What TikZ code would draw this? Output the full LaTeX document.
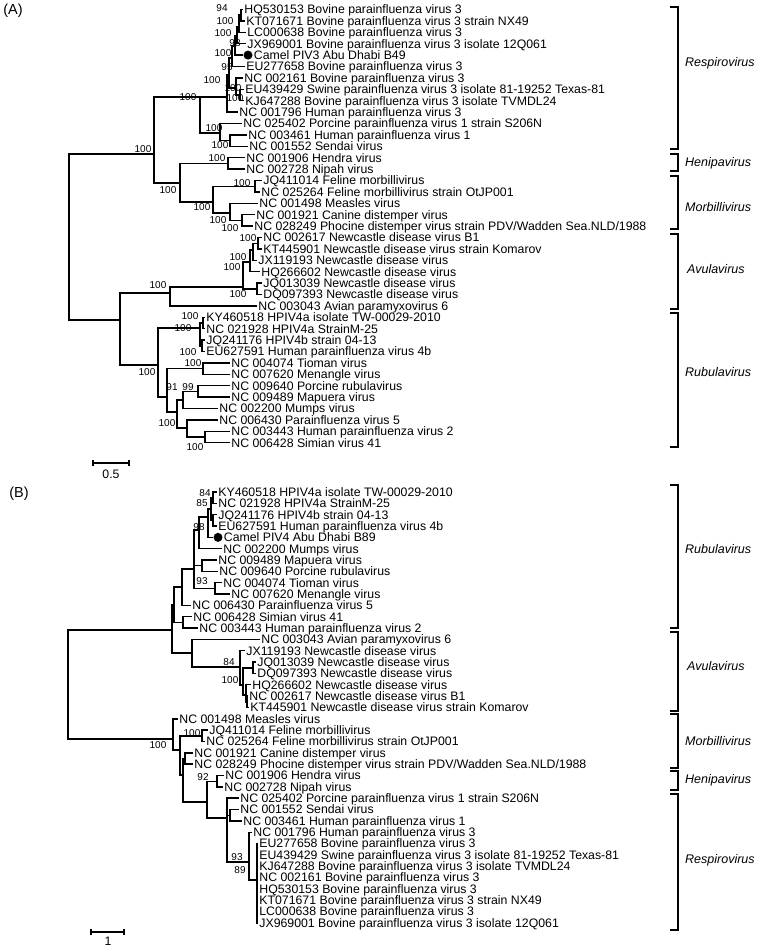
\documentclass[tikz,border=0pt]{standalone}
\usepackage{fontspec}
\setmainfont{Liberation Sans}
\newcommand\tipfont{\fontsize{12.3}{12.3}\selectfont}
\newcommand\bootfont{\fontsize{10}{10}\selectfont}
\newcommand\genfont{\fontsize{12.5}{12.5}\selectfont\itshape}
\newcommand\tA[4]{\node[tip] (#1) at (#2,{ya(#3)}) {#4};}
\newcommand\tB[4]{\node[tip] (#1) at (#2,{yb(#3)}) {#4};}
\newcommand\br[2]{\draw[branch] (#1) |- (#2);}
\newcommand\bs[4]{\node[boot] (#1) at (#2,#3) {#4};}
\newcommand\grp[6]{%
  \coordinate (#1t) at (670,#2); \coordinate (#1b) at (670,#3);
  \draw[bracketline] (#1t) -- ++(8,0) |- (#1b);
  \node[gen] (#1l) at (#5,#6) {#4};}
\begin{document}
\begin{tikzpicture}[x=1pt,y=-1pt,
  declare function={ya(\i)=9.5+11.4*(\i-1); yb(\i)=492+11.34*(\i-1);},
  branch/.style={line width=1.4pt, line join=miter},
  tip/.style={anchor=west, inner xsep=1.2pt, inner ysep=0pt, font=\tipfont, text height=8.8pt, text depth=0pt},
  boot/.style={inner sep=0pt, font=\bootfont},
  gen/.style={inner sep=0pt, anchor=west, font=\genfont},
  panel/.style={inner sep=0pt, font=\fontsize{14.5}{14.5}\selectfont},
  bracketline/.style={line width=1.3pt, line join=miter},
  dot/.style={circle, fill=black, inner sep=0pt, minimum size=9pt},
  scalebar/.style={line width=1.3pt}]
\useasboundingbox (0,0) rectangle (760,948);

% ================= Panel A =================
\node[panel] (labA) at (13,11) {(A)};
\coordinate (rootA) at (69,237);
\coordinate (N1) at (154,154);
\coordinate (ResA) at (200,97);
\coordinate (P3) at (227,97);
\coordinate (a8) at (229,75);
\coordinate (a5) at (232,58);
\coordinate (a4) at (235,46);
\coordinate (a3) at (237,36);
\coordinate (a2) at (239,27);
\coordinate (a1) at (241,15);
\coordinate (a6) at (236,88);
\coordinate (a7) at (240,95);
\coordinate (P1) at (220,133);
\coordinate (sd) at (230,140.6);
\coordinate (N3) at (180,183);
\coordinate (Hn) at (228,163.4);
\coordinate (Mb) at (213,202);
\coordinate (Fe) at (255,186.2);
\coordinate (Md) at (230,213);
\coordinate (Cd) at (242,220.4);
\coordinate (N2) at (120,320);
\coordinate (Av0) at (170,293);
\coordinate (Av1) at (243,287);
\coordinate (Av2) at (250,262);
\coordinate (Av2a) at (253,250);
\coordinate (nd) at (258,243.2);
\coordinate (Av3) at (257,288.8);
\coordinate (Rb) at (158,365);
\coordinate (H4) at (200,328);
\coordinate (h4a) at (203,323);
\coordinate (h4b) at (202,345.8);
\coordinate (R2) at (167,397);
\coordinate (tm) at (203,368.6);
\coordinate (R3) at (177,412);
\coordinate (mu) at (183,400);
\coordinate (pm) at (198,391.4);
\coordinate (ps) at (187,428);
\coordinate (h2) at (205,437);

\tA{tA1}{243}{1}{HQ530153 Bovine parainfluenza virus 3}
\tA{tA2}{245}{2}{KT071671 Bovine parainfluenza virus 3 strain NX49}
\tA{tA3}{246}{3}{LC000638 Bovine parainfluenza virus 3}
\tA{tA4}{246}{4}{JX969001 Bovine parainfluenza virus 3 isolate 12Q061}
\node[dot] (camA) at (248,{ya(5)}) {};
\tA{tA5}{252.5}{5}{Camel PIV3 Abu Dhabi B49}
\tA{tA6}{245}{6}{EU277658 Bovine parainfluenza virus 3}
\tA{tA7}{243}{7}{NC 002161 Bovine parainfluenza virus 3}
\tA{tA8}{244}{8}{EU439429 Swine parainfluenza virus 3 isolate 81-19252 Texas-81}
\tA{tA9}{244}{9}{KJ647288 Bovine parainfluenza virus 3 isolate TVMDL24}
\tA{tA10}{238}{10}{NC 001796 Human parainfluenza virus 3}
\tA{tA11}{242}{11}{NC 025402 Porcine parainfluenza virus 1 strain S206N}
\tA{tA12}{247}{12}{NC 003461 Human parainfluenza virus 1}
\tA{tA13}{248}{13}{NC 001552 Sendai virus}
\tA{tA14}{245}{14}{NC 001906 Hendra virus}
\tA{tA15}{245}{15}{NC 002728 Nipah virus}
\tA{tA16}{262}{16}{JQ411014 Feline morbillivirus}
\tA{tA17}{260}{17}{NC 025264 Feline morbillivirus strain OtJP001}
\tA{tA18}{258}{18}{NC 001498 Measles virus}
\tA{tA19}{255}{19}{NC 001921 Canine distemper virus}
\tA{tA20}{253}{20}{NC 028249 Phocine distemper virus strain PDV/Wadden Sea.NLD/1988}
\tA{tA21}{262}{21}{NC 002617 Newcastle disease virus B1}
\tA{tA22}{262}{22}{KT445901 Newcastle disease virus strain Komarov}
\tA{tA23}{257}{23}{JX119193 Newcastle disease virus}
\tA{tA24}{260}{24}{HQ266602 Newcastle disease virus}
\tA{tA25}{262}{25}{JQ013039 Newcastle disease virus}
\tA{tA26}{262}{26}{DQ097393 Newcastle disease virus}
\tA{tA27}{257}{27}{NC 003043 Avian paramyxovirus 6}
\tA{tA28}{205}{28}{KY460518 HPIV4a isolate TW-00029-2010}
\tA{tA29}{205}{29}{NC 021928 HPIV4a StrainM-25}
\tA{tA30}{205}{30}{JQ241176 HPIV4b strain 04-13}
\tA{tA31}{205}{31}{EU627591 Human parainfluenza virus 4b}
\tA{tA32}{230}{32}{NC 004074 Tioman virus}
\tA{tA33}{230}{33}{NC 007620 Menangle virus}
\tA{tA34}{230}{34}{NC 009640 Porcine rubulavirus}
\tA{tA35}{230}{35}{NC 009489 Mapuera virus}
\tA{tA36}{218}{36}{NC 002200 Mumps virus}
\tA{tA37}{218}{37}{NC 006430 Parainfluenza virus 5}
\tA{tA38}{230}{38}{NC 003443 Human parainfluenza virus 2}
\tA{tA39}{230}{39}{NC 006428 Simian virus 41}

\br{rootA}{N1}\br{rootA}{N2}
\br{N1}{ResA}\br{N1}{N3}
\br{ResA}{P3}\br{ResA}{P1}
\br{P3}{a8}\br{P3}{tA10.west}
\br{a8}{a5}\br{a8}{a6}
\br{a5}{a4}\br{a5}{tA6.west}
\br{a4}{a3}\br{a4}{camA}
\br{a3}{a2}\br{a3}{tA4.west}
\br{a2}{a1}\br{a2}{tA3.west}
\br{a1}{tA1.west}\br{a1}{tA2.west}
\br{a6}{tA7.west}\br{a6}{a7}
\br{a7}{tA8.west}\br{a7}{tA9.west}
\br{P1}{tA11.west}\br{P1}{sd}
\br{sd}{tA12.west}\br{sd}{tA13.west}
\br{N3}{Hn}\br{N3}{Mb}
\br{Hn}{tA14.west}\br{Hn}{tA15.west}
\br{Mb}{Fe}\br{Mb}{Md}
\br{Fe}{tA16.west}\br{Fe}{tA17.west}
\br{Md}{tA18.west}\br{Md}{Cd}
\br{Cd}{tA19.west}\br{Cd}{tA20.west}
\br{N2}{Av0}\br{N2}{Rb}
\br{Av0}{Av1}\br{Av0}{tA27.west}
\br{Av1}{Av2}\br{Av1}{Av3}
\br{Av2}{Av2a}\br{Av2}{tA24.west}
\br{Av2a}{nd}\br{Av2a}{tA23.west}
\br{nd}{tA21.west}\br{nd}{tA22.west}
\br{Av3}{tA25.west}\br{Av3}{tA26.west}
\br{Rb}{H4}\br{Rb}{R2}
\br{H4}{h4a}\br{H4}{h4b}
\br{h4a}{tA28.west}\br{h4a}{tA29.west}
\br{h4b}{tA30.west}\br{h4b}{tA31.west}
\br{R2}{tm}\br{R2}{R3}
\br{tm}{tA32.west}\br{tm}{tA33.west}
\br{R3}{mu}\br{R3}{ps}
\br{mu}{pm}\br{mu}{tA36.west}
\br{pm}{tA34.west}\br{pm}{tA35.west}
\br{ps}{tA37.west}\br{ps}{h2}
\br{h2}{tA38.west}\br{h2}{tA39.west}

\bs{bA1}{222}{8}{94}
\bs{bA2}{225}{21}{100}
\bs{bA3}{223}{33}{100}
\bs{bA4}{235}{43}{98}
\bs{bA5}{223}{53}{100}
\bs{bA6}{227}{67}{95}
\bs{bA7}{212}{80}{100}
\bs{bA8}{233}{88}{100}
\bs{bA9}{235}{98}{100}
\bs{bA10}{188}{97}{100}
\bs{bA11}{143}{149}{100}
\bs{bA12}{214}{128}{100}
\bs{bA13}{220}{145}{100}
\bs{bA14}{217}{158}{100}
\bs{bA15}{168}{190}{100}
\bs{bA16}{202}{207}{100}
\bs{bA17}{242}{183}{100}
\bs{bA18}{218}{220}{100}
\bs{bA19}{230}{228}{100}
\bs{bA20}{248}{238}{100}
\bs{bA21}{238}{257}{100}
\bs{bA22}{232}{267}{100}
\bs{bA23}{158}{285}{100}
\bs{bA24}{238}{294}{100}
\bs{bA25}{190}{316}{100}
\bs{bA26}{183}{328}{100}
\bs{bA27}{188}{352}{100}
\bs{bA28}{193}{363}{100}
\bs{bA29}{147}{372}{100}
\bs{bA30}{188}{387}{99}
\bs{bA31}{172}{387}{91}
\bs{bA32}{167}{423}{100}
\bs{bA33}{195}{447}{100}

\grp{gA1}{7}{149}{Respirovirus}{685}{63}
\grp{gA2}{154}{171}{Henipavirus}{685}{163}
\grp{gA3}{176}{229}{Morbillivirus}{685}{207}
\grp{gA4}{234}{309}{Avulavirus}{687}{269}
\grp{gA5}{313}{447}{Rubulavirus}{685}{372}

\coordinate (sbA1) at (93,463); \coordinate (sbA2) at (129,463);
\draw[scalebar] (sbA1) -- (sbA2);
\draw[scalebar] ([yshift=-3pt]sbA1) -- ([yshift=3pt]sbA1);
\draw[scalebar] ([yshift=-3pt]sbA2) -- ([yshift=3pt]sbA2);
\node[boot, font=\tipfont] (sbAl) at (111,474) {0.5};

% ================= Panel B =================
\node[panel] (labB) at (19,494) {(B)};
\coordinate (rootB) at (68,685);
\coordinate (RA) at (172,630);
\coordinate (RubB) at (174,605);
\coordinate (R4) at (182,587);
\coordinate (R5) at (194,569);
\coordinate (H4B) at (199,530);
\coordinate (hb1) at (208,517);
\coordinate (hb2) at (211,509);
\coordinate (hb3) at (213,497.7);
\coordinate (hb4) at (213,520.3);
\coordinate (mp) at (202,565.7);
\coordinate (tmB) at (215,588.4);
\coordinate (s41) at (183,622.4);
\coordinate (AvB) at (192,653);
\coordinate (nv0) at (240,667);
\coordinate (nv1) at (243,685);
\coordinate (jqB) at (253,667.8);
\coordinate (nv2) at (246,695);
\coordinate (nv3) at (247,702);
\coordinate (MHR) at (173,739);
\coordinate (M2) at (180,750);
\coordinate (fe) at (202,735.8);
\coordinate (M3) at (183,775);
\coordinate (cdB) at (185,758.5);
\coordinate (M4) at (207,802);
\coordinate (hnB) at (217,781.2);
\coordinate (rsB) at (227,818);
\coordinate (p1B) at (230,815.2);
\coordinate (p3B) at (249,862);
\coordinate (bvB) at (257,880);

\tB{tB1}{217}{1}{KY460518 HPIV4a isolate TW-00029-2010}
\tB{tB2}{217}{2}{NC 021928 HPIV4a StrainM-25}
\tB{tB3}{217}{3}{JQ241176 HPIV4b strain 04-13}
\tB{tB4}{217}{4}{EU627591 Human parainfluenza virus 4b}
\node[dot] (camB) at (218,{yb(5)}) {};
\tB{tB5}{222.5}{5}{Camel PIV4 Abu Dhabi B89}
\tB{tB6}{222}{6}{NC 002200 Mumps virus}
\tB{tB7}{217}{7}{NC 009489 Mapuera virus}
\tB{tB8}{218}{8}{NC 009640 Porcine rubulavirus}
\tB{tB9}{222}{9}{NC 004074 Tioman virus}
\tB{tB10}{230}{10}{NC 007620 Menangle virus}
\tB{tB11}{191}{11}{NC 006430 Parainfluenza virus 5}
\tB{tB12}{192}{12}{NC 006428 Simian virus 41}
\tB{tB13}{198}{13}{NC 003443 Human parainfluenza virus 2}
\tB{tB14}{260}{14}{NC 003043 Avian paramyxovirus 6}
\tB{tB15}{245}{15}{JX119193 Newcastle disease virus}
\tB{tB16}{256}{16}{JQ013039 Newcastle disease virus}
\tB{tB17}{256}{17}{DQ097393 Newcastle disease virus}
\tB{tB18}{251}{18}{HQ266602 Newcastle disease virus}
\tB{tB19}{248}{19}{NC 002617 Newcastle disease virus B1}
\tB{tB20}{249}{20}{KT445901 Newcastle disease virus strain Komarov}
\tB{tB21}{178}{21}{NC 001498 Measles virus}
\tB{tB22}{208}{22}{JQ411014 Feline morbillivirus}
\tB{tB23}{205}{23}{NC 025264 Feline morbillivirus strain OtJP001}
\tB{tB24}{193}{24}{NC 001921 Canine distemper virus}
\tB{tB25}{193}{25}{NC 028249 Phocine distemper virus strain PDV/Wadden Sea.NLD/1988}
\tB{tB26}{224}{26}{NC 001906 Hendra virus}
\tB{tB27}{223}{27}{NC 002728 Nipah virus}
\tB{tB28}{239}{28}{NC 025402 Porcine parainfluenza virus 1 strain S206N}
\tB{tB29}{239}{29}{NC 001552 Sendai virus}
\tB{tB30}{242}{30}{NC 003461 Human parainfluenza virus 1}
\tB{tB31}{252}{31}{NC 001796 Human parainfluenza virus 3}
\tB{tB32}{258}{32}{EU277658 Bovine parainfluenza virus 3}
\tB{tB33}{258}{33}{EU439429 Swine parainfluenza virus 3 isolate 81-19252 Texas-81}
\tB{tB34}{258}{34}{KJ647288 Bovine parainfluenza virus 3 isolate TVMDL24}
\tB{tB35}{258}{35}{NC 002161 Bovine parainfluenza virus 3}
\tB{tB36}{258}{36}{HQ530153 Bovine parainfluenza virus 3}
\tB{tB37}{258}{37}{KT071671 Bovine parainfluenza virus 3 strain NX49}
\tB{tB38}{258}{38}{LC000638 Bovine parainfluenza virus 3}
\tB{tB39}{258}{39}{JX969001 Bovine parainfluenza virus 3 isolate 12Q061}

\br{rootB}{RA}\br{rootB}{MHR}
\br{RA}{RubB}\br{RA}{AvB}
\br{RubB}{R4}\br{RubB}{s41}
\br{R4}{R5}\br{R4}{tB11.west}
\br{R5}{H4B}\br{R5}{mp}\br{R5}{tmB}
\br{H4B}{hb1}\br{H4B}{tB6.west}
\br{hb1}{hb2}\br{hb1}{camB}
\br{hb2}{hb3}\br{hb2}{hb4}
\br{hb3}{tB1.west}\br{hb3}{tB2.west}
\br{hb4}{tB3.west}\br{hb4}{tB4.west}
\br{mp}{tB7.west}\br{mp}{tB8.west}
\br{tmB}{tB9.west}\br{tmB}{tB10.west}
\br{s41}{tB12.west}\br{s41}{tB13.west}
\br{AvB}{tB14.west}\br{AvB}{nv0}
\br{nv0}{tB15.west}\br{nv0}{nv1}
\br{nv1}{jqB}\br{nv1}{nv2}
\br{jqB}{tB16.west}\br{jqB}{tB17.west}
\br{nv2}{tB18.west}\br{nv2}{nv3}
\br{nv3}{tB19.west}\br{nv3}{tB20.west}
\br{MHR}{tB21.west}\br{MHR}{M2}
\br{M2}{fe}\br{M2}{M3}
\br{fe}{tB22.west}\br{fe}{tB23.west}
\br{M3}{cdB}\br{M3}{M4}
\br{cdB}{tB24.west}\br{cdB}{tB25.west}
\br{M4}{hnB}\br{M4}{rsB}
\br{hnB}{tB26.west}\br{hnB}{tB27.west}
\br{rsB}{tB28.west}\br{rsB}{p1B}\br{rsB}{p3B}
\br{p1B}{tB29.west}\br{p1B}{tB30.west}
\br{p3B}{tB31.west}\br{p3B}{bvB}
\foreach \k in {32,...,39} {\br{bvB}{tB\k.west}}

\bs{bB1}{205}{493}{84}
\bs{bB2}{202}{503}{85}
\bs{bB3}{199}{527}{98}
\bs{bB4}{202}{581}{93}
\bs{bB5}{229}{662}{84}
\bs{bB6}{230}{680}{100}
\bs{bB7}{192}{733}{100}
\bs{bB8}{158}{745}{100}
\bs{bB9}{203}{777}{92}
\bs{bB10}{237}{857}{93}
\bs{bB11}{240}{870}{89}

\grp{gB1}{485}{628}{Rubulavirus}{685}{549}
\grp{gB2}{632}{711}{Avulavirus}{687}{666}
\grp{gB3}{714}{768}{Morbillivirus}{685}{741}
\grp{gB4}{771}{790}{Henipavirus}{685}{780}
\grp{gB5}{794}{930}{Respirovirus}{685}{860}

\coordinate (sbB1) at (91,932); \coordinate (sbB2) at (124,932);
\draw[scalebar] (sbB1) -- (sbB2);
\draw[scalebar] ([yshift=-3pt]sbB1) -- ([yshift=3pt]sbB1);
\draw[scalebar] ([yshift=-3pt]sbB2) -- ([yshift=3pt]sbB2);
\node[boot, font=\tipfont] (sbBl) at (108,941) {1};
\end{tikzpicture}
\end{document}
